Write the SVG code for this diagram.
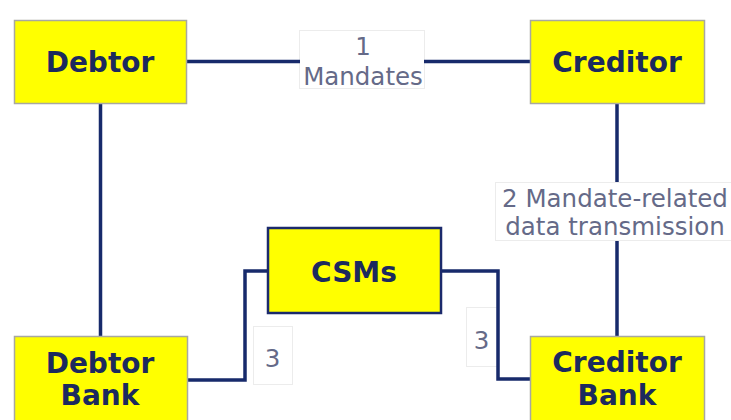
<svg xmlns="http://www.w3.org/2000/svg" width="731" height="420" viewBox="0 0 731 420">
<style>
.box{fill:#ffff00;stroke:#a8a8a0;stroke-width:1.5}
.csm{fill:#ffff00;stroke:#1b2a6b;stroke-width:2.5}
.nt{font-family:"DejaVu Sans",Verdana,sans-serif;font-weight:bold;font-size:28px;fill:#1c2a5e;text-anchor:middle}
.lbl{fill:#ffffff;stroke:#ececec;stroke-width:1}
.lt{font-family:"DejaVu Sans",Verdana,sans-serif;font-size:24.5px;fill:#656a88;text-anchor:middle}
.conn{fill:none;stroke:#172a6b;stroke-width:3.5}
</style>
<rect width="731" height="420" fill="#ffffff"/>
<g id="label1">
<rect class="lbl" x="299.5" y="30.5" width="125" height="58"/>
<text class="lt" x="363" y="55">1</text>
<text class="lt" x="363" y="85">Mandates</text>
</g>
<g id="label2">
<rect class="lbl" x="495.5" y="182.5" width="240" height="58"/>
<text class="lt" x="615" y="207">2 Mandate-related</text>
<text class="lt" x="615" y="235">data transmission</text>
</g>
<g id="label3a">
<rect class="lbl" x="253.5" y="326.5" width="39" height="58"/>
<text class="lt" x="272.5" y="367">3</text>
</g>
<g id="label3b">
<rect class="lbl" x="466.5" y="307.5" width="31" height="59"/>
<text class="lt" x="481.5" y="349">3</text>
</g>
<g id="connectors">
<line class="conn" x1="187" y1="61.5" x2="300" y2="61.5"/>
<line class="conn" x1="424" y1="61.5" x2="530" y2="61.5"/>
<line class="conn" x1="100.5" y1="103" x2="100.5" y2="336"/>
<line class="conn" x1="617" y1="103" x2="617" y2="182"/>
<line class="conn" x1="617" y1="241" x2="617" y2="336"/>
<polyline class="conn" points="188,380 245,380 245,271 267,271"/>
<polyline class="conn" points="442,271 498,271 498,379 530,379"/>
</g>
<g id="debtor">
<rect class="box" x="14.5" y="20.5" width="172" height="83"/>
<text class="nt" x="100" y="72">Debtor</text>
</g>
<g id="creditor">
<rect class="box" x="530.5" y="20.5" width="174" height="83"/>
<text class="nt" x="617" y="72">Creditor</text>
</g>
<g id="csms">
<rect class="csm" x="268" y="228" width="173" height="85"/>
<text class="nt" x="354" y="282">CSMs</text>
</g>
<g id="debtor-bank">
<rect class="box" x="14.5" y="336.5" width="173" height="90"/>
<text class="nt" x="100" y="373">Debtor</text>
<text class="nt" x="100" y="405">Bank</text>
</g>
<g id="creditor-bank">
<rect class="box" x="530.5" y="336.5" width="174" height="90"/>
<text class="nt" x="617" y="372">Creditor</text>
<text class="nt" x="617" y="405">Bank</text>
</g>
</svg>
